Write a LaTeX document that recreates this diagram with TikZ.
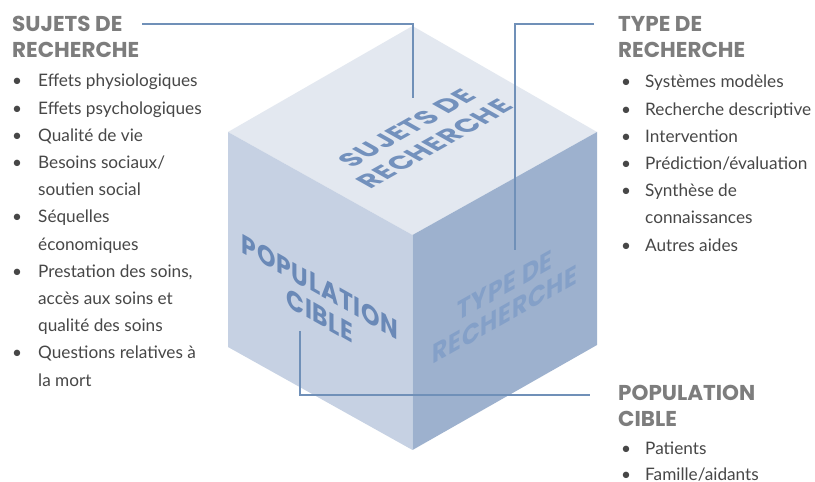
\documentclass[tikz,border=0pt]{standalone}
\usepackage{fontspec}
\setmainfont{Lato}
\newfontfamily\headfont{Poppins}
\newfontfamily\facefont[LetterSpace=3]{Poppins}
\definecolor{headgray}{HTML}{7D7D7D}
\definecolor{listgray}{HTML}{474747}
\definecolor{linkblue}{HTML}{7090B8}
\definecolor{topface}{HTML}{E3E8F0}
\definecolor{leftface}{HTML}{C6D1E3}
\definecolor{rightface}{HTML}{9DB1CE}
\definecolor{toptext}{HTML}{7391BD}
\definecolor{lefttext}{HTML}{6A89B7}
\definecolor{righttext}{HTML}{84A0C8}
\tikzset{
  head/.style={font=\headfont\bfseries\fontsize{21.5}{27}\selectfont, text=headgray, anchor=base west, inner sep=0pt},
  lst/.style={font=\fontsize{17.2}{27}\selectfont, text=listgray, anchor=base west, inner sep=0pt},
  conn/.style={draw=linkblue, line width=2pt},
  facetext/.style={font=\facefont\bfseries\fontsize{27}{29}\selectfont, transform shape, align=center, inner sep=0pt},
  toptextstyle/.style={font=\facefont\bfseries\fontsize{27}{32}\selectfont}
}
\begin{document}
\begin{tikzpicture}[x=1pt,y=1pt]
\useasboundingbox (0,0) rectangle (815,482);
\fill[white] (0,0) rectangle (815,482);
% cube
\coordinate (T) at (412.5,456);
\coordinate (L) at (228,350);
\coordinate (R) at (597,350);
\coordinate (C) at (412.5,247);
\coordinate (B) at (412.5,32);
\coordinate (LB) at (228,135);
\coordinate (RB) at (597,137);
\fill[topface] (T) -- (L) -- (C) -- (R) -- cycle;
\fill[leftface] (L) -- (C) -- (B) -- (LB) -- cycle;
\fill[rightface] (C) -- (R) -- (RB) -- (B) -- cycle;
\begin{scope}[cm={0.87,0.49,-0.87,0.49,(421pt,346pt)}]
  \node[facetext, toptextstyle, text=toptext] (ftop) {SUJETS DE\\RECHERCHE};
\end{scope}
\begin{scope}[cm={0.87,-0.49,0,1,(320pt,181pt)}]
  \node[facetext, text=lefttext] (fleft) {POPULATION\\CIBLE};
\end{scope}
\begin{scope}[cm={0.87,0.49,0,1,(505pt,182pt)}]
  \node[facetext, text=righttext] (fright) {TYPE DE\\RECHERCHE};
\end{scope}
% left block
\node[head] (hS1) at (12,450) {SUJETS DE};
\node[head] (hS2) at (12,424) {RECHERCHE};
\foreach \k/\b/\t [count=\i] in {0/1/{Effets physiologiques}, 1/1/{Effets psychologiques}, 2/1/{Qualité de vie}, 3/1/{Besoins sociaux/}, 4/0/{soutien social}, 5/1/{Séquelles}, 6/0/{économiques}, 7/1/{Prestation des soins,}, 8/0/{accès aux soins et}, 9/0/{qualité des soins}, 10/1/{Questions relatives à}, 11/0/{la mort}}{
  \node[lst] (sl\i) at (38,{395-27.2*\k}) {\t};
  \ifnum\b=1 \node[lst] (sb\i) at (12,{395-27.2*\k}) {•};\fi
}
% right block
\node[head] (hT1) at (618,450) {TYPE DE};
\node[head] (hT2) at (618,424) {RECHERCHE};
\foreach \k/\b/\t [count=\i] in {0/1/{Systèmes modèles}, 1/1/{Recherche descriptive}, 2/1/{Intervention}, 3/1/{Prédiction/évaluation}, 4/1/{Synthèse de}, 5/0/{connaissances}, 6/1/{Autres aides}}{
  \node[lst] (tl\i) at (645,{394-27.2*\k}) {\t};
  \ifnum\b=1 \node[lst] (tb\i) at (621,{394-27.2*\k}) {•};\fi
}
% bottom block
\node[head] (hP1) at (618,81) {POPULATION};
\node[head] (hP2) at (618,55) {CIBLE};
\node[lst] (pl1) at (645,27) {Patients};
\node[lst] (pb1) at (621,27) {•};
\node[lst] (pl2) at (645,1) {Famille/aidants};
\node[lst] (pb2) at (621,1) {•};
% connectors
\coordinate (cS) at (142,458);
\coordinate (cSf) at (412.5,384);
\draw[conn] (cS) -| (cSf);
\coordinate (cT) at (594,458);
\coordinate (cTf) at (515,232);
\draw[conn] (cT) -| (cTf);
\coordinate (cPf) at (300,151);
\coordinate (cP) at (590,87);
\draw[conn] (cPf) |- (cP);
\end{tikzpicture}
\end{document}
